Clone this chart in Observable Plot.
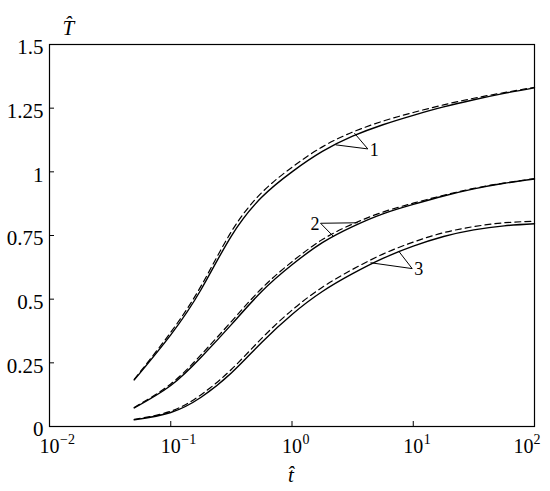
<!DOCTYPE html>
<html><head><meta charset="utf-8">
<script src="https://cdn.jsdelivr.net/npm/d3@7"></script>
<script src="https://cdn.jsdelivr.net/npm/@observablehq/plot@0.6"></script>
<style>
body{margin:0;background:#fff;}
svg, svg text { font-family: "Liberation Serif", "Times New Roman", Times, "DejaVu Serif", serif !important; }
</style>
</head><body><div id="chart"></div>
<script>
// time values (hat t), shared by all curves
const tValues = [0.05, 0.1, 0.178, 0.316, 0.562, 1, 1.78, 3.16, 5.62, 10, 17.8, 31.6, 56.2, 100];
// hat T values
const curve1Solid  = [0.183, 0.36, 0.538, 0.748, 0.90, 1.0, 1.08, 1.14, 1.185, 1.222, 1.255, 1.283, 1.308, 1.33];
const curve1Dashed = [0.185, 0.37, 0.552, 0.765, 0.918, 1.018, 1.098, 1.156, 1.199, 1.233, 1.263, 1.289, 1.311, 1.332];
const curve2Solid  = [0.073, 0.161, 0.272, 0.40, 0.53, 0.635, 0.722, 0.785, 0.835, 0.872, 0.905, 0.933, 0.955, 0.972];
const curve2Dashed = [0.075, 0.167, 0.282, 0.412, 0.542, 0.647, 0.734, 0.795, 0.842, 0.877, 0.908, 0.935, 0.956, 0.973];
const curve3Solid  = [0.026, 0.055, 0.115, 0.21, 0.33, 0.44, 0.53, 0.60, 0.66, 0.708, 0.746, 0.772, 0.788, 0.796];
const curve3Dashed = [0.028, 0.06, 0.125, 0.224, 0.346, 0.457, 0.547, 0.617, 0.677, 0.724, 0.761, 0.785, 0.80, 0.806];

// axes
const xTicks = [0.01, 0.1, 1, 10, 100];
const xTickBase = ["10", "10", "10", "10", "10"];
const xTickExp = ["\u22122", "\u22121", "0", "1", "2"];
const yTicks = [0, 0.25, 0.5, 0.75, 1, 1.25, 1.5];
const yTickLabels = ["0", "0.25", "0.5", "0.75", "1", "1.25", "1.5"];
const xLabel = "t\u0302";
const yLabel = "T\u0302";

// curve labels with leader lines (apex and two end points, in data units)
const curveLabels = ["1", "2", "3"];
const labelT = [4.22, 1.72, 9.8];
const labelY = [1.09, 0.798, 0.62];
const leaderEndT = [[2.29, 3.27], [3.49, 2.21], [4.44, 7.6]];
const leaderEndY = [[1.106, 1.152], [0.80, 0.745], [0.643, 0.688]];

const solidRows = [];
const dashedRows = [];
[[curve1Solid, curve1Dashed], [curve2Solid, curve2Dashed], [curve3Solid, curve3Dashed]].forEach(([s, d], k) => {
  tValues.forEach((t, i) => {
    solidRows.push({t, T: s[i], curve: k + 1});
    dashedRows.push({t, T: d[i], curve: k + 1});
  });
});
const leaderRows = [];
curveLabels.forEach((c, i) => {
  for (let j = 0; j < 2; j++) leaderRows.push({x1: labelT[i], y1: labelY[i], x2: leaderEndT[i][j], y2: leaderEndY[i][j]});
});
const labelRows = curveLabels.map((c, i) => ({text: c, t: labelT[i], T: labelY[i], i}));
const xTickRows = xTicks.map((v, i) => ({v, base: xTickBase[i], exp: xTickExp[i], last: i === xTicks.length - 1}));

const font = "Liberation Serif, Times New Roman, DejaVu Serif, serif";

const chart = Plot.plot({
  width: 550, height: 491,
  marginLeft: 49, marginRight: 16, marginTop: 44, marginBottom: 65,
  style: {fontFamily: font, fontSize: "20px", background: "white", color: "black", overflow: "visible"},
  x: {type: "log", domain: [0.01, 100], axis: null},
  y: {domain: [0, 1.5], axis: null},
  marks: [
    Plot.frame({stroke: "black", strokeWidth: 1.2}),
    Plot.axisY({ticks: yTicks, tickSize: 0, tickPadding: 6, dy: 3, fontSize: 21, fontFamily: font,
      tickFormat: d => yTickLabels[yTicks.indexOf(d)]}),
    Plot.tickY(yTicks, {y: d => d, insetRight: 480, stroke: "black", strokeWidth: 1}),
    Plot.tickX(xTicks, {x: d => d, insetTop: 377, stroke: "black", strokeWidth: 1}),
    // x tick labels: base "10" and exponent
    Plot.text(xTickRows.filter(d => !d.last), {x: "v", text: "base", frameAnchor: "bottom", lineAnchor: "bottom", dy: 26.7, fontSize: 20, fontFamily: font}),
    Plot.text(xTickRows.filter(d => !d.last), {x: "v", text: "exp", frameAnchor: "bottom", lineAnchor: "bottom", textAnchor: "start", dx: 10.5, dy: 17.3, fontSize: 14, fontFamily: font}),
    Plot.text(xTickRows.filter(d => d.last), {x: "v", text: "base", frameAnchor: "bottom", lineAnchor: "bottom", dx: -11, dy: 26.7, fontSize: 20, fontFamily: font}),
    Plot.text(xTickRows.filter(d => d.last), {x: "v", text: "exp", frameAnchor: "bottom", lineAnchor: "bottom", textAnchor: "start", dx: -1, dy: 17.3, fontSize: 14, fontFamily: font}),
    // curves
    Plot.line(dashedRows, {x: "t", y: "T", z: "curve", curve: "natural", stroke: "black", strokeWidth: 1.2, strokeDasharray: "6,4"}),
    Plot.line(solidRows, {x: "t", y: "T", z: "curve", curve: "natural", stroke: "black", strokeWidth: 1.4}),
    // leaders and labels
    Plot.link(leaderRows, {x1: "x1", y1: "y1", x2: "x2", y2: "y2", stroke: "black", strokeWidth: 1}),
    Plot.text(labelRows.filter(d => d.i !== 1), {x: "t", y: "T", text: "text", textAnchor: "start", dx: 2, dy: 1, fontSize: 18, fontFamily: font}),
    Plot.text(labelRows.filter(d => d.i === 1), {x: "t", y: "T", text: "text", textAnchor: "end", dx: -1, dy: 1, fontSize: 18, fontFamily: font}),
    // axis titles (hatted)
    Plot.text([yLabel], {frameAnchor: "top-left", text: d => d, lineAnchor: "bottom", dx: 13, dy: -9.7, fontSize: 21, fontStyle: "italic", fontFamily: font}),
    Plot.text([xLabel], {x: [1], frameAnchor: "bottom", text: () => xLabel, lineAnchor: "bottom", dx: -1, dy: 55.7, fontSize: 21, fontStyle: "italic", fontFamily: font})
  ]
});
document.getElementById("chart").appendChild(chart);
</script>
</body></html>
